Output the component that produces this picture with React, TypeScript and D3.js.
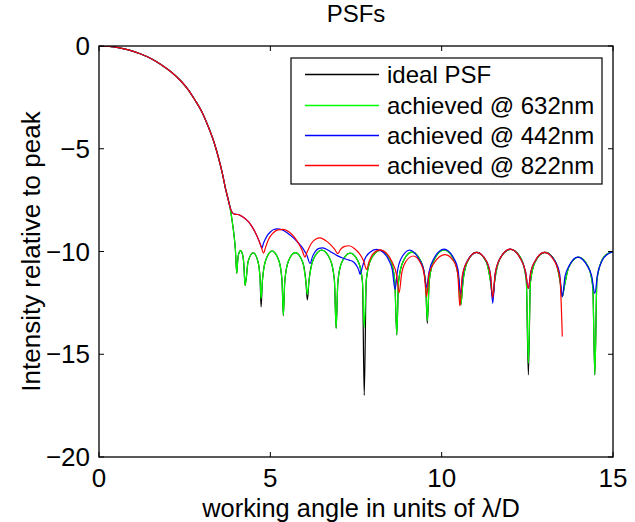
import React from 'react';
import * as d3 from 'd3';

type Pt = [number, number];

const xTicks = [0, 5, 10, 15];
const yTicks = [0, -5, -10, -15, -20];
const seriesNames = ['ideal PSF', 'achieved @ 632nm', 'achieved @ 442nm', 'achieved @ 822nm'];
const seriesColors = ['#000000', '#00ff00', '#0000ff', '#ff0000'];

// shared main lobe
const mainLobe: Pt[] = [
  [0, 0], [0.3, -0.02], [0.6, -0.09], [0.86, -0.19], [1.2, -0.38], [1.5, -0.6], [1.83, -0.93],
  [2.1, -1.25], [2.41, -1.74], [2.6, -2.12], [2.8, -2.63], [3.0, -3.2], [3.19, -3.93], [3.35, -4.65],
  [3.48, -5.39], [3.6, -6.2], [3.68, -6.85], [3.76, -7.4], [3.82, -7.82],
];

const idealTail: Pt[] = [
  [3.88, -8.45], [3.94, -9.2], [3.98, -9.9], [4.02, -11.06],
  [4.04, -10.6], [4.07, -10.15], [4.13, -9.96], [4.19, -10.15], [4.23, -10.7], [4.26, -11.65],
  [4.29, -11.4], [4.35, -10.5], [4.5, -10.06], [4.64, -10.5], [4.7, -11.3], [4.73, -12.7],
  [4.77, -11.4], [4.86, -10.45], [5.05, -9.98], [5.25, -10.45], [5.34, -11.4], [5.38, -13.12],
  [5.42, -11.5], [5.52, -10.5], [5.73, -10.05], [5.94, -10.5], [6.04, -11.5], [6.08, -12.36],
  [6.13, -11.4], [6.25, -10.4], [6.5, -9.93], [6.75, -10.4], [6.87, -11.4], [6.92, -13.74],
  [6.97, -11.5], [7.08, -10.55], [7.33, -10.08], [7.58, -10.55], [7.69, -11.5], [7.74, -17.0],
  [7.8, -11.4], [7.93, -10.4], [8.21, -9.95], [8.5, -10.4], [8.63, -11.4], [8.69, -14.06],
  [8.74, -11.5], [8.87, -10.5], [9.13, -10.03], [9.4, -10.5], [9.53, -11.5], [9.58, -13.5],
  [9.64, -11.4], [9.78, -10.4], [10.07, -9.92], [10.36, -10.4], [10.5, -11.4], [10.56, -12.6],
  [10.62, -11.5], [10.75, -10.5], [11.02, -10.04], [11.3, -10.5], [11.43, -11.5], [11.49, -12.25],
  [11.55, -11.4], [11.7, -10.35], [12.01, -9.9], [12.32, -10.35], [12.47, -11.4], [12.53, -16.0],
  [12.59, -11.5], [12.73, -10.5], [13.02, -10.04], [13.32, -10.5], [13.46, -11.5], [13.52, -12.2],
  [13.58, -11.7], [13.71, -10.75], [13.99, -10.27], [14.28, -10.75], [14.41, -11.7], [14.47, -16.0],
  [14.53, -11.4], [14.67, -10.45], [14.85, -10.1], [15.0, -10.02],
];

const green632Tail: Pt[] = [
  [3.88, -8.45], [3.94, -9.2], [3.98, -9.9], [4.02, -11.06],
  [4.04, -10.6], [4.07, -10.15], [4.13, -9.96], [4.19, -10.15], [4.23, -10.7], [4.26, -11.65],
  [4.29, -11.4], [4.35, -10.5], [4.5, -10.06], [4.64, -10.5], [4.7, -11.3], [4.73, -12.3],
  [4.77, -11.4], [4.86, -10.45], [5.05, -9.98], [5.25, -10.45], [5.34, -11.4], [5.38, -13.1],
  [5.42, -11.5], [5.52, -10.5], [5.73, -10.05], [5.94, -10.5], [6.04, -11.5], [6.08, -12.1],
  [6.13, -11.4], [6.25, -10.4], [6.5, -9.93], [6.75, -10.4], [6.87, -11.4], [6.92, -13.74],
  [6.97, -11.5], [7.08, -10.55], [7.33, -10.08], [7.58, -10.55], [7.69, -11.5], [7.74, -13.7],
  [7.8, -11.4], [7.93, -10.4], [8.21, -9.95], [8.5, -10.4], [8.63, -11.4], [8.69, -14.06],
  [8.74, -11.5], [8.87, -10.5], [9.13, -10.03], [9.4, -10.5], [9.53, -11.5], [9.58, -13.37],
  [9.64, -11.4], [9.78, -10.4], [10.07, -9.92], [10.36, -10.4], [10.5, -11.4], [10.56, -12.57],
  [10.62, -11.5], [10.75, -10.5], [11.02, -10.04], [11.3, -10.5], [11.43, -11.5], [11.49, -12.2],
  [11.55, -11.4], [11.7, -10.35], [12.01, -9.9], [12.32, -10.35], [12.47, -11.4], [12.53, -15.44],
  [12.59, -11.5], [12.73, -10.5], [13.02, -10.04], [13.32, -10.5], [13.46, -11.5], [13.52, -12.2],
  [13.58, -11.7], [13.71, -10.75], [13.99, -10.27], [14.28, -10.75], [14.41, -11.7], [14.47, -16.0],
  [14.53, -11.4], [14.67, -10.45], [14.85, -10.1], [15.0, -10.02],
];

const blue442Tail: Pt[] = [
  [3.88, -8.08], [3.95, -8.18], [4.05, -8.2], [4.12, -8.24], [4.25, -8.38], [4.36, -8.55],
  [4.46, -8.78], [4.55, -9.04], [4.65, -9.4], [4.72, -9.7], [4.75, -9.85], [4.8, -9.6],
  [4.9, -9.25], [5.0, -9.05], [5.1, -8.93], [5.2, -8.9], [5.35, -8.95], [5.5, -9.1], [5.65, -9.3],
  [5.8, -9.55], [5.95, -9.85], [6.07, -10.2], [6.16, -10.58], [6.23, -10.25], [6.32, -9.98],
  [6.42, -9.85], [6.52, -9.82], [6.65, -9.9], [6.8, -10.05], [6.95, -10.2], [7.13, -10.33],
  [7.3, -10.42], [7.42, -10.5], [7.52, -10.7], [7.58, -10.9], [7.62, -11.12], [7.67, -10.85],
  [7.75, -10.4], [7.9, -10.05], [8.1, -9.9], [8.3, -10.05], [8.45, -10.4], [8.56, -10.9],
  [8.64, -11.85], [8.71, -10.95], [8.8, -10.4], [9.07, -9.93], [9.33, -10.35], [9.47, -10.85],
  [9.56, -11.74], [9.63, -11.0], [9.77, -10.35], [10.07, -9.88], [10.36, -10.35], [10.48, -10.9],
  [10.55, -12.05], [10.62, -11.1], [10.75, -10.45], [11.02, -10.04], [11.3, -10.45], [11.42, -11.1],
  [11.49, -12.52], [11.56, -11.1], [11.7, -10.35], [12.0, -9.88], [12.3, -10.35], [12.45, -11.0],
  [12.53, -11.8], [12.6, -11.0], [12.73, -10.45], [13.0, -10.04], [13.3, -10.45], [13.44, -11.05],
  [13.52, -12.2], [13.6, -11.2], [13.72, -10.7], [13.97, -10.27], [14.25, -10.7], [14.38, -11.2],
  [14.47, -12.04], [14.55, -11.1], [14.68, -10.45], [14.85, -10.12], [15.0, -10.02],
];

const red822Tail: Pt[] = [
  [3.88, -8.08], [3.95, -8.18], [4.05, -8.2], [4.12, -8.24], [4.25, -8.38], [4.36, -8.55],
  [4.46, -8.78], [4.55, -9.04], [4.65, -9.4], [4.73, -9.75], [4.8, -10.08], [4.86, -9.8],
  [4.95, -9.4], [5.08, -9.1], [5.22, -8.95], [5.38, -8.92], [5.55, -9.05], [5.7, -9.3],
  [5.82, -9.6], [5.93, -9.95], [6.01, -10.27], [6.08, -10.0], [6.2, -9.6], [6.32, -9.4],
  [6.45, -9.34], [6.6, -9.45], [6.75, -9.65], [6.88, -9.9], [6.97, -10.1], [7.05, -9.9],
  [7.17, -9.75], [7.3, -9.72], [7.45, -9.85], [7.6, -10.1], [7.72, -10.45], [7.81, -10.87],
  [7.88, -10.5], [8.0, -10.1], [8.2, -9.92], [8.4, -10.1], [8.55, -10.5], [8.68, -11.1],
  [8.76, -12.0], [8.83, -11.1], [8.95, -10.5], [9.17, -10.22], [9.38, -10.55], [9.49, -11.1],
  [9.56, -12.2], [9.63, -11.1], [9.78, -10.55], [10.1, -10.15], [10.36, -10.5], [10.47, -11.1],
  [10.53, -12.65], [10.6, -11.2], [10.74, -10.5], [11.02, -10.04], [11.3, -10.45], [11.43, -11.2],
  [11.49, -12.25], [11.56, -11.1], [11.7, -10.35], [12.0, -9.88], [12.3, -10.35], [12.45, -11.0],
  [12.53, -11.8], [12.6, -11.0], [12.73, -10.45], [13.0, -10.04], [13.3, -10.5], [13.45, -11.3],
  [13.52, -14.14],
];

const seriesData: Pt[][] = [
  [...mainLobe, ...idealTail],
  [...mainLobe, ...green632Tail],
  [...mainLobe, ...blue442Tail],
  [...mainLobe, ...red822Tail],
];

const W = 635;
const H = 522;
const L = 99, R = 613, T = 46, B = 457;
const FONT = '"Liberation Sans", Arial, Helvetica, sans-serif';
const FS = 24;
const TICK_FS = 26;
const LABEL_FS = 25.4;

export default function App() {
  const x = d3.scaleLinear().domain([0, 15]).range([L, R]);
  const y = d3.scaleLinear().domain([-20, 0]).range([B, T]);
  const line = d3.line<Pt>().x(d => x(d[0])).y(d => y(d[1])).curve(d3.curveMonotoneX);
  const tickLen = 5;
  const legX0 = 291, legY0 = 58, legW = 311, legH = 126;
  const rowY = [74.5, 105.5, 135.5, 165.5];

  return (
    <svg width={W} height={H} style={{ position: 'absolute', left: 0, top: 0, background: '#fff' }}
      fontFamily={FONT}>
      <rect x={0} y={0} width={W} height={H} fill="#fff" />
      <defs>
        <clipPath id="plotclip">
          <rect x={L} y={T} width={R - L} height={B - T} />
        </clipPath>
      </defs>
      <g clipPath="url(#plotclip)">
        {seriesData.map((d, i) => (
          <path key={i} d={line(d) || ''} fill="none" stroke={seriesColors[i]} strokeWidth={1.2}
            strokeLinejoin="round" />
        ))}
      </g>
      {/* axes box */}
      <rect x={L} y={T} width={R - L} height={B - T} fill="none" stroke="#000" strokeWidth={1.3} />
      {xTicks.map(t => (
        <g key={'x' + t}>
          <line x1={x(t)} x2={x(t)} y1={B} y2={B - tickLen} stroke="#000" strokeWidth={1} />
          <line x1={x(t)} x2={x(t)} y1={T} y2={T + tickLen} stroke="#000" strokeWidth={1} />
          <text x={x(t)} y={B + 30} textAnchor="middle" fontSize={TICK_FS} fill="#000">{t}</text>
        </g>
      ))}
      {yTicks.map(t => (
        <g key={'y' + t}>
          <line x1={L} x2={L + tickLen} y1={y(t)} y2={y(t)} stroke="#000" strokeWidth={1} />
          <line x1={R} x2={R - tickLen} y1={y(t)} y2={y(t)} stroke="#000" strokeWidth={1} />
          <text x={L - 9} y={y(t) + 9} textAnchor="end" fontSize={TICK_FS} fill="#000">
            {t < 0 ? '\u2212' + Math.abs(t) : String(t)}
          </text>
        </g>
      ))}
      <text x={(L + R) / 2} y={22} textAnchor="middle" fontSize={FS} fill="#000">PSFs</text>
      <text x={(L + R) / 2 + 5} y={517} textAnchor="middle" fontSize={LABEL_FS} fill="#000">
        working angle in units of λ/D
      </text>
      <text transform={`translate(40,${(T + B) / 2}) rotate(-90)`} textAnchor="middle" fontSize={26} fill="#000">
        Intensity relative to peak
      </text>
      {/* legend */}
      <rect x={legX0} y={legY0} width={legW} height={legH} fill="#fff" stroke="#000" strokeWidth={1.2} />
      {seriesNames.map((n, i) => (
        <g key={n}>
          <line x1={305} x2={379} y1={rowY[i]} y2={rowY[i]} stroke={seriesColors[i]} strokeWidth={1.3} />
          <text x={387} y={rowY[i] + 8.5} fontSize={FS} fill="#000">{n}</text>
        </g>
      ))}
    </svg>
  );
}
